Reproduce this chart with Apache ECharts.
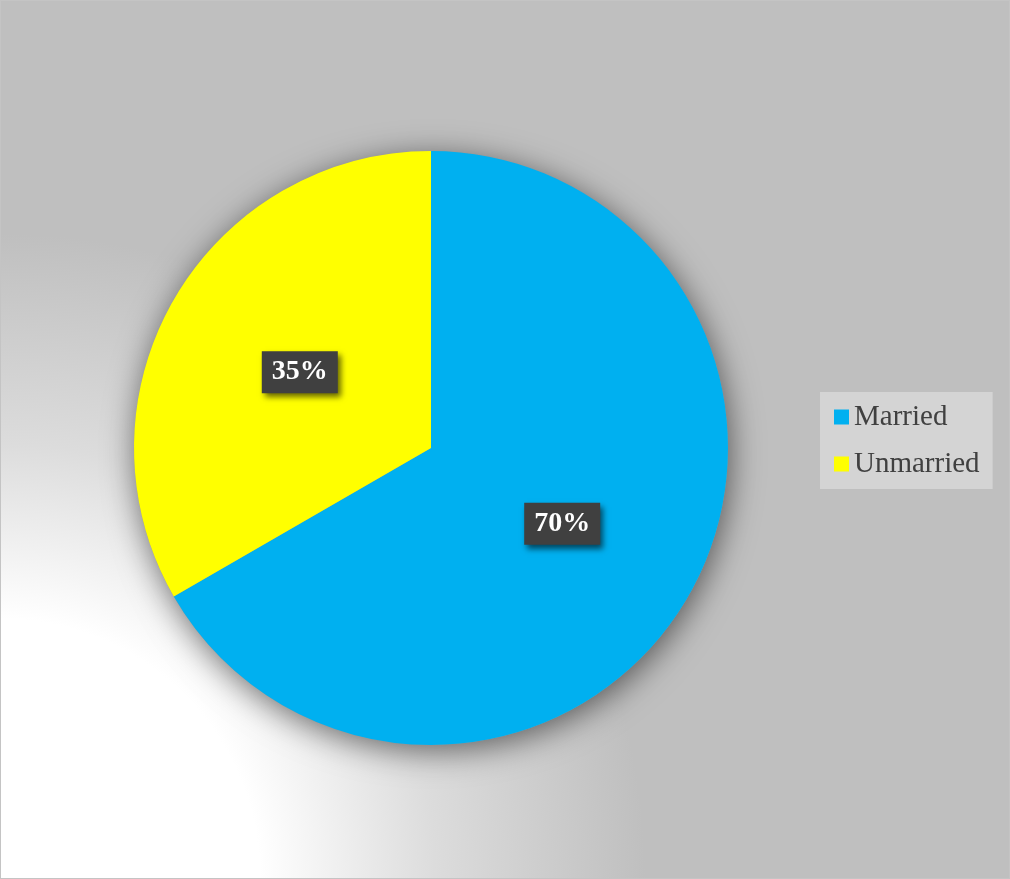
<!DOCTYPE html>
<html>
<head>
<meta charset="utf-8">
<script src="https://cdn.jsdelivr.net/npm/echarts@6/dist/echarts.min.js"></script>
<style>
  html, body { margin: 0; padding: 0; background: #ffffff; }
  #frame { width: 1010px; height: 879px; box-sizing: border-box; border: 1px solid #c4c4c4; }
  #chart { width: 1008px; height: 877px; }
</style>
</head>
<body>
<div id="frame"><div id="chart"></div></div>
<script>
// Marital status share (labels show the values as percentages)
const categories = ['Married', 'Unmarried'];
const values = [70, 35];
const colors = ['#00b0f0', '#ffff00'];

const serif = '"Liberation Serif", "Times New Roman", serif';

const chart = echarts.init(document.getElementById('chart'), null, { renderer: 'canvas' });

const pieCenter = [430, 447];
const pieRadius = 297;

chart.setOption({
  backgroundColor: {
    type: 'radial',
    x: 0, y: 877, r: 700,
    global: true,
    colorStops: [
      { offset: 0, color: '#ffffff' },
      { offset: 0.37, color: '#ffffff' },
      { offset: 0.62, color: '#dcdcdc' },
      { offset: 0.92, color: '#bfbfbf' },
      { offset: 1, color: '#bfbfbf' }
    ]
  },
  animation: false,
  legend: {
    data: categories,
    orient: 'vertical',
    left: 819,
    top: 391,
    backgroundColor: '#d4d4d4',
    padding: [10, 13, 10, 14],
    itemWidth: 15,
    itemHeight: 15,
    itemGap: 17,
    icon: 'rect',
    textStyle: { fontFamily: serif, fontSize: 29, color: '#404040', lineHeight: 30 }
  },
  series: [
    {
      // soft drop shadow under the whole pie
      type: 'pie',
      silent: true,
      center: pieCenter,
      radius: pieRadius,
      z: 1,
      label: { show: false },
      labelLine: { show: false },
      itemStyle: {
        color: '#9a9a9a',
        shadowBlur: 32,
        shadowColor: 'rgba(0,0,0,0.55)',
        shadowOffsetX: 2,
        shadowOffsetY: 6
      },
      data: [{ name: 'backdrop', value: 1 }]
    },
    {
      type: 'pie',
      center: pieCenter,
      radius: pieRadius,
      startAngle: 90,
      clockwise: true,
      z: 2,
      label: {
        show: true,
        position: 'inside',
        formatter: '{c}%',
        fontFamily: serif,
        fontWeight: 'bold',
        fontSize: 28,
        color: '#ffffff',
        backgroundColor: '#404040',
        padding: [7, 10, 7, 10],
        shadowBlur: 6,
        shadowColor: 'rgba(0,0,0,0.6)',
        shadowOffsetX: 3,
        shadowOffsetY: 4
      },
      labelLine: { show: false },
      emphasis: { disabled: true },
      data: categories.map((name, i) => ({
        name,
        value: values[i],
        itemStyle: { color: colors[i] }
      }))
    }
  ]
});
</script>
</body>
</html>
